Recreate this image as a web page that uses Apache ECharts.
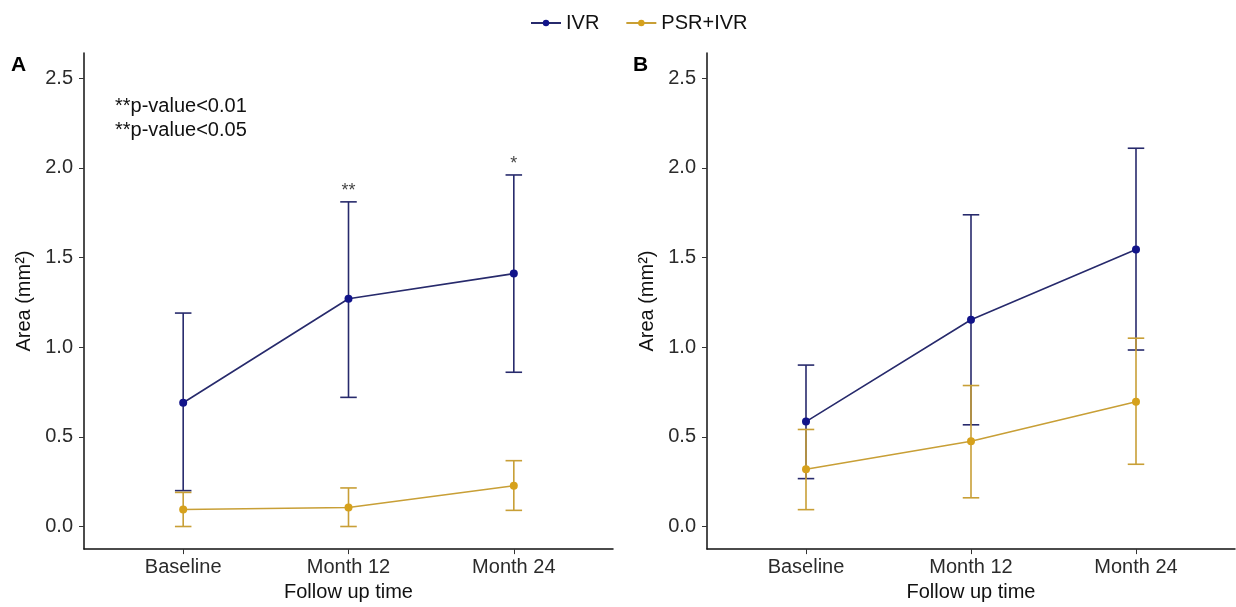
<!DOCTYPE html>
<html>
<head>
<meta charset="utf-8">
<script src="https://cdn.jsdelivr.net/npm/echarts@6/dist/echarts.min.js"></script>
<style>
  html, body { margin: 0; padding: 0; background: #ffffff; }
  #chart { width: 1236px; height: 607px; }
</style>
</head>
<body>
<div id="chart"></div>
<script>
  // categories and tick values
  var categories = ['Baseline', 'Month 12', 'Month 24'];
  var yTicks = [0, 0.5, 1, 1.5, 2, 2.5];

  // panel A: mean, lower and upper error bounds
  var ivrA = [0.69, 1.27, 1.41];
  var ivrALow = [0.20, 0.72, 0.86];
  var ivrAHigh = [1.19, 1.81, 1.96];
  var psrA = [0.095, 0.106, 0.227];
  var psrALow = [0.0, 0.0, 0.09];
  var psrAHigh = [0.19, 0.215, 0.367];
  var sigA = ['', '**', '*'];

  // panel B
  var ivrB = [0.585, 1.153, 1.544];
  var ivrBLow = [0.267, 0.567, 0.984];
  var ivrBHigh = [0.90, 1.738, 2.109];
  var psrB = [0.319, 0.475, 0.696];
  var psrBLow = [0.094, 0.160, 0.347];
  var psrBHigh = [0.541, 0.786, 1.050];

  var FONT = '"Liberation Sans", Arial, sans-serif';
  var navyPt = '#12148a', navyLn = '#272a6c';
  var goldPt = '#d6a11c', goldLn = '#c89f36';

  function pts(arr) {
    return arr.map(function (v, i) { return [i + 1, v]; });
  }
  function bars(lo, hi) {
    return lo.map(function (v, i) { return [i + 1, v, hi[i]]; });
  }

  function errorSeries(name, idx, lo, hi, color) {
    return {
      name: name,
      type: 'custom',
      xAxisIndex: idx,
      yAxisIndex: idx,
      silent: true,
      z: 1,
      data: bars(lo, hi),
      renderItem: function (params, api) {
        var x = api.value(0);
        var top = api.coord([x, api.value(2)]);
        var bot = api.coord([x, api.value(1)]);
        var l = api.coord([x - 0.05, 0])[0];
        var r = api.coord([x + 0.05, 0])[0];
        var st = { stroke: color, lineWidth: 1.6 };
        return {
          type: 'group',
          children: [
            { type: 'line', shape: { x1: top[0], y1: top[1], x2: bot[0], y2: bot[1] }, style: st },
            { type: 'line', shape: { x1: l, y1: top[1], x2: r, y2: top[1] }, style: st },
            { type: 'line', shape: { x1: l, y1: bot[1], x2: r, y2: bot[1] }, style: st }
          ]
        };
      }
    };
  }

  function lineSeries(name, idx, vals, ptColor, lnColor) {
    return {
      name: name,
      type: 'line',
      xAxisIndex: idx,
      yAxisIndex: idx,
      z: 3,
      data: pts(vals),
      symbol: 'circle',
      symbolSize: 8,
      itemStyle: { color: ptColor },
      lineStyle: { color: lnColor, width: 1.6 },
      emphasis: { disabled: true }
    };
  }

  function xAxis(idx) {
    return {
      type: 'value',
      gridIndex: idx,
      min: 0.4,
      max: 3.6,
      name: 'Follow up time',
      nameLocation: 'middle',
      nameGap: 31,
      nameTextStyle: { color: '#111', fontSize: 20, fontFamily: FONT },
      axisLine: { show: true, onZero: false, lineStyle: { color: '#111', width: 1.5 } },
      axisTick: { show: true, length: 5, customValues: [1, 2, 3], lineStyle: { color: '#333' } },
      axisLabel: {
        customValues: [1, 2, 3],
        margin: 8,
        color: '#2b2b2b', fontSize: 20, fontFamily: FONT,
        formatter: function (v) { return categories[Math.round(v) - 1]; }
      },
      splitLine: { show: false }
    };
  }

  function yAxis(idx) {
    return {
      type: 'value',
      gridIndex: idx,
      min: -0.126,
      max: 2.64,
      name: 'Area (mm²)',
      nameLocation: 'middle',
      nameRotate: 90,
      nameGap: 50,
      nameTextStyle: { color: '#111', fontSize: 20, fontFamily: FONT },
      axisLine: { show: true, onZero: false, lineStyle: { color: '#111', width: 1.5 } },
      axisTick: { show: true, length: 5, customValues: yTicks, lineStyle: { color: '#333' } },
      axisLabel: {
        customValues: yTicks,
        margin: 11,
        color: '#2b2b2b', fontSize: 20, fontFamily: FONT,
        formatter: function (v) { return v.toFixed(1); }
      },
      splitLine: { show: false }
    };
  }

  var chart = echarts.init(document.getElementById('chart'));
  var option = {
    backgroundColor: '#ffffff',
    animation: false,
    textStyle: { fontFamily: FONT },
    legend: {
      data: ['IVR', 'PSR+IVR'],
      top: 8,
      left: 525,
      itemWidth: 30,
      itemHeight: 8,
      itemGap: 26,
      textStyle: { color: '#111', fontSize: 20, fontFamily: FONT }
    },
    grid: [
      { left: 84, right: 623, top: 53, bottom: 56 },
      { left: 707, right: 1, top: 53, bottom: 56 }
    ],
    xAxis: [xAxis(0), xAxis(1)],
    yAxis: [yAxis(0), yAxis(1)],
    graphic: [
      { type: 'text', left: 11, top: 55, style: { text: 'A', font: 'bold 21px ' + FONT, fill: '#000' } },
      { type: 'text', left: 633, top: 55, style: { text: 'B', font: 'bold 21px ' + FONT, fill: '#000' } },
      { type: 'text', left: 115, top: 94, style: { text: '**p-value<0.01\n**p-value<0.05', font: '20px ' + FONT, fill: '#111', lineHeight: 24 } }
    ],
    series: [
      errorSeries('IVR err A', 0, ivrALow, ivrAHigh, navyLn),
      errorSeries('PSR err A', 0, psrALow, psrAHigh, goldLn),
      lineSeries('IVR', 0, ivrA, navyPt, navyLn),
      lineSeries('PSR+IVR', 0, psrA, goldPt, goldLn),
      {
        name: 'sig A',
        type: 'scatter',
        xAxisIndex: 0,
        yAxisIndex: 0,
        symbolSize: 0,
        silent: true,
        data: pts(ivrAHigh).map(function (p, i) {
          return { value: p, label: { formatter: sigA[i] } };
        }),
        label: { show: true, position: 'top', distance: 2, color: '#111', fontSize: 18, fontFamily: FONT }
      },
      errorSeries('IVR err B', 1, ivrBLow, ivrBHigh, navyLn),
      errorSeries('PSR err B', 1, psrBLow, psrBHigh, goldLn),
      lineSeries('IVR', 1, ivrB, navyPt, navyLn),
      lineSeries('PSR+IVR', 1, psrB, goldPt, goldLn)
    ]
  };
  option && chart.setOption(option);
</script>
</body>
</html>
